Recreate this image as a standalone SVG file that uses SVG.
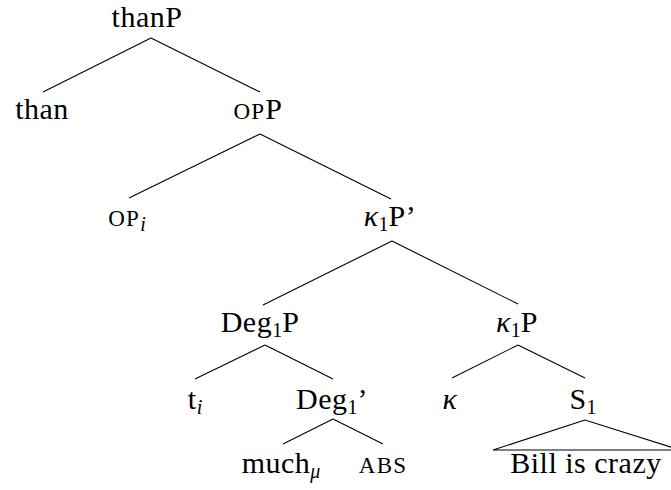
<svg xmlns="http://www.w3.org/2000/svg" width="671" height="490" viewBox="0 0 671 490">
<style>
text{font-family:'Liberation Serif','Times New Roman',serif;font-size:30px;letter-spacing:0.5px;fill:#000;text-anchor:middle}
.sub{font-size:20px;letter-spacing:0}
.sc{font-size:23px;letter-spacing:1.2px}
.it{font-style:italic}
.edge{stroke:#000;stroke-width:1.1;fill:none}
</style>
<rect width="671" height="490" fill="#fff"/>
<g id="connectors">
<line class="edge" x1="151" y1="38" x2="43" y2="92"/>
<line class="edge" x1="151" y1="38" x2="260" y2="92"/>
<line class="edge" x1="260" y1="134" x2="129" y2="198"/>
<line class="edge" x1="260" y1="134" x2="391" y2="199"/>
<line class="edge" x1="392" y1="241" x2="263" y2="305"/>
<line class="edge" x1="392" y1="241" x2="518" y2="304"/>
<line class="edge" x1="265" y1="345" x2="195" y2="379"/>
<line class="edge" x1="265" y1="345" x2="333" y2="379"/>
<line class="edge" x1="518" y1="345" x2="452" y2="378"/>
<line class="edge" x1="518" y1="345" x2="585" y2="378"/>
<line class="edge" x1="333" y1="419" x2="283" y2="444"/>
<line class="edge" x1="333" y1="419" x2="383" y2="444"/>
<polygon class="edge" points="585,420 493,450 680,450"/>
</g>
<g id="thanP"><text x="147" y="27">thanP</text></g>
<g id="than"><text x="42" y="119">than</text></g>
<g id="opP"><text x="258" y="119"><tspan class="sc">OP</tspan>P</text></g>
<g id="OPi"><text x="127" y="226"><tspan class="sc">OP</tspan><tspan class="sub it" dy="5">i</tspan></text></g>
<g id="k1Pbar"><text x="390" y="226"><tspan class="it">κ</tspan><tspan class="sub" dy="5">1</tspan><tspan dy="-5">P’</tspan></text></g>
<g id="Deg1P"><text x="260" y="332">Deg<tspan class="sub" dy="5">1</tspan><tspan dy="-5">P</tspan></text></g>
<g id="k1P"><text x="517" y="332"><tspan class="it">κ</tspan><tspan class="sub" dy="5">1</tspan><tspan dy="-5">P</tspan></text></g>
<g id="ti"><text x="195" y="409">t<tspan class="sub it" dy="5">i</tspan></text></g>
<g id="Deg1bar"><text x="332" y="409">Deg<tspan class="sub" dy="5">1</tspan><tspan dy="-5">’</tspan></text></g>
<g id="kappa"><text x="450" y="409" class="it">κ</text></g>
<g id="S1"><text x="583" y="409">S<tspan class="sub" dy="5">1</tspan></text></g>
<g id="much"><text x="281" y="473">much<tspan class="sub it" dy="5">μ</tspan></text></g>
<g id="ABS"><text x="383" y="473" class="sc">ABS</text></g>
<g id="bill"><text x="586" y="473">Bill is crazy</text></g>
</svg>
